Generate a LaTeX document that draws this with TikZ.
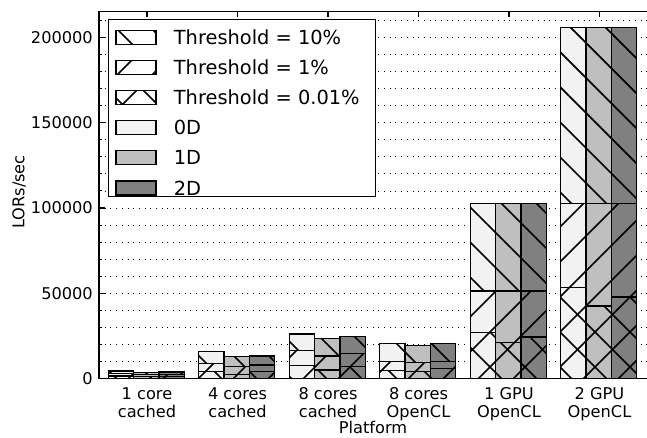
\documentclass[tikz,border=0pt]{standalone}
\usepackage{fontspec}
\setmainfont{DejaVu Sans}
\usetikzlibrary{positioning, patterns.meta}
\definecolor{dzero}{gray}{0.95}
\definecolor{done}{gray}{0.75}
\definecolor{dtwo}{gray}{0.5}

\begin{document}
\begin{tikzpicture}[x=1pt, y=1pt, node distance=14.85pt,
    tickfont/.style={font=\fontsize{16.2}{18.4}\selectfont, inner sep=0},
    legfont/.style={font=\fontsize{19.4}{23}\selectfont, inner sep=0},
    thten/.style={pattern={Lines[angle=-45, distance=24.75pt, line width=1.7pt]}},
    thone/.style={pattern={Lines[angle=45, distance=24.75pt, line width=1.7pt]}},
    thmin/.style={pattern={Hatch[angle=45, distance=24.75pt, line width=1.7pt]}},
    seg/.style={draw, line width=1.3pt, preaction={fill=#1}},
    legpatch/.style={draw, line width=1.3pt, minimum width=40pt, minimum height=14pt, inner sep=0}]
\useasboundingbox (0,0) rectangle (647,437);
% plot area, y counted in thousands of LORs/sec
\begin{scope}[shift={(99,58.4)}, y=1.706pt]
  \foreach \v in {10,20,...,210} \draw[line width=0.8pt, dash pattern=on 1pt off 4.7pt] (0,\v) -- (548,\v);
  \foreach \i/\j/\col/\a/\b/\t in {0/0/dzero/1.5/2.9/4.4, 0/1/done/1.2/2.3/3.7, 0/2/dtwo/1.3/2.4/3.8,
      1/0/dzero/4.0/9.0/15.8, 1/1/done/2.5/7.0/12.8, 1/2/dtwo/4.0/8.0/13.2,
      2/0/dzero/7.6/16.4/26.1, 2/1/done/5.0/13.2/23.6, 2/2/dtwo/7.0/14.8/24.6,
      3/0/dzero/4.6/9.9/20.7, 3/1/done/4.0/9.5/19.3, 3/2/dtwo/6.0/9.9/20.7,
      4/0/dzero/26.9/51.3/102.7, 4/1/done/21.3/51.3/102.7, 4/2/dtwo/24.4/51.3/102.7,
      5/0/dzero/53.3/102.7/205.6, 5/1/done/42.5/102.7/205.6, 5/2/dtwo/47.8/102.7/205.6}{
    \pgfmathsetmacro\xl{9.3+90.5*\i+25.3*\j}
    \draw[seg=\col, thten] (\xl,\b) rectangle (\xl+25.3,\t);
    \draw[seg=\col, thone] (\xl,\a) rectangle (\xl+25.3,\b);
    \draw[seg=\col, thmin] (\xl,0) rectangle (\xl+25.3,\a);
  }
  \draw[line width=1.3pt] (548,215) -- (0,215) -- (0,0) -- (548,0);
  \foreach \v in {10,20,...,210} \draw[line width=1pt] (0,\v) -- ++(2.7pt,0);
  \foreach \v/\lab in {0/0, 50/50000, 100/100000, 150/150000, 200/200000}{
    \draw[line width=1.2pt] (0,\v) -- ++(5.5pt,0);
    \node[tickfont, anchor=east] (y\v) at (-6,\v) {\lab};
  }
  \foreach \i/\txt in {0/{1 core\\cached}, 1/{4 cores\\cached}, 2/{8 cores\\cached},
      3/{8 cores\\OpenCL}, 4/{1 GPU\\OpenCL}, 5/{2 GPU\\OpenCL}}{
    \draw[line width=1.2pt] (48+90.5*\i,215) -- ++(0,-5pt);
    \node[tickfont, align=center, anchor=north, yshift=-8.7pt] (x\i) at (48+90.5*\i,0) {\txt};
  }
\end{scope}
\node[tickfont, anchor=base] (xlabel) at (373,3.2) {Platform};
\node[tickfont, anchor=base, rotate=90] (ylabel) at (24.3,245) {LORs/sec};
% legend
\draw[line width=1pt, fill=white] (108,240.3) rectangle (375,417);
\node[legpatch, preaction={fill=white}, thten] (pten) at (136,399.8) {};
\node[legpatch, preaction={fill=white}, thone, below=of pten] (pone) {};
\node[legpatch, preaction={fill=white}, thmin, below=of pone] (pmin) {};
\node[legpatch, fill=dzero, below=of pmin] (pzero) {};
\node[legpatch, fill=done, below=of pzero] (pdone) {};
\node[legpatch, fill=dtwo, below=of pdone] (pdtwo) {};
\node[legfont, right=17pt of pten] (tten) {Threshold = 10\%};
\node[legfont, right=17pt of pone] (tone) {Threshold = 1\%};
\node[legfont, right=17pt of pmin] (tmin) {Threshold = 0.01\%};
\node[legfont, right=17pt of pzero] (tzero) {0D};
\node[legfont, right=17pt of pdone] (tdone) {1D};
\node[legfont, right=17pt of pdtwo] (tdtwo) {2D};
\end{tikzpicture}
\end{document}
